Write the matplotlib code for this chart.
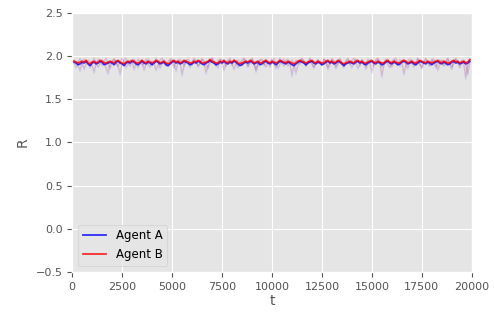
import numpy as np
import matplotlib
matplotlib.use('Agg')
import matplotlib.pyplot as plt

plt.style.use('ggplot')

# time axis, one sample every 100 steps
t = np.arange(0, 20000, 100)

# mean reward per agent
agent_a = [
    1.94, 1.93, 1.92, 1.90, 1.91, 1.93, 1.92, 1.94, 1.91, 1.89, 1.92, 1.93, 1.91, 1.92, 1.94, 1.93, 1.90, 1.91, 1.92, 1.93,
    1.92, 1.90, 1.93, 1.94, 1.92, 1.91, 1.89, 1.92, 1.93, 1.92, 1.94, 1.93, 1.91, 1.90, 1.92, 1.94, 1.92, 1.91, 1.93, 1.92,
    1.90, 1.92, 1.94, 1.93, 1.91, 1.92, 1.93, 1.90, 1.89, 1.91, 1.93, 1.94, 1.92, 1.93, 1.91, 1.92, 1.94, 1.93, 1.92, 1.90,
    1.91, 1.93, 1.92, 1.94, 1.93, 1.91, 1.90, 1.92, 1.93, 1.95, 1.93, 1.92, 1.90, 1.91, 1.93, 1.92, 1.94, 1.92, 1.91, 1.93,
    1.92, 1.94, 1.93, 1.91, 1.89, 1.90, 1.92, 1.93, 1.92, 1.94, 1.93, 1.91, 1.92, 1.93, 1.90, 1.91, 1.93, 1.94, 1.92, 1.91,
    1.93, 1.92, 1.90, 1.92, 1.94, 1.93, 1.92, 1.91, 1.93, 1.92, 1.90, 1.89, 1.91, 1.93, 1.94, 1.93, 1.92, 1.90, 1.92, 1.93,
    1.94, 1.92, 1.91, 1.93, 1.92, 1.90, 1.91, 1.93, 1.94, 1.92, 1.93, 1.91, 1.92, 1.94, 1.93, 1.91, 1.89, 1.91, 1.92, 1.93,
    1.92, 1.91, 1.93, 1.94, 1.92, 1.93, 1.91, 1.90, 1.92, 1.93, 1.94, 1.92, 1.91, 1.93, 1.92, 1.90, 1.91, 1.93, 1.94, 1.92,
    1.91, 1.93, 1.92, 1.90, 1.91, 1.93, 1.94, 1.93, 1.91, 1.92, 1.93, 1.91, 1.90, 1.92, 1.94, 1.93, 1.92, 1.91, 1.93, 1.92,
    1.90, 1.92, 1.93, 1.94, 1.92, 1.91, 1.93, 1.92, 1.90, 1.91, 1.93, 1.94, 1.92, 1.93, 1.91, 1.92, 1.93, 1.91, 1.92, 1.94,
]
agent_b = [
    1.95, 1.94, 1.93, 1.92, 1.93, 1.94, 1.93, 1.95, 1.92, 1.91, 1.93, 1.94, 1.92, 1.93, 1.95, 1.94, 1.92, 1.92, 1.93, 1.94,
    1.93, 1.92, 1.94, 1.95, 1.93, 1.92, 1.91, 1.93, 1.94, 1.93, 1.95, 1.94, 1.92, 1.92, 1.93, 1.95, 1.93, 1.92, 1.94, 1.93,
    1.92, 1.93, 1.95, 1.94, 1.92, 1.93, 1.94, 1.92, 1.91, 1.92, 1.94, 1.95, 1.93, 1.94, 1.92, 1.93, 1.95, 1.94, 1.93, 1.92,
    1.92, 1.94, 1.93, 1.95, 1.94, 1.92, 1.92, 1.93, 1.94, 1.96, 1.94, 1.93, 1.92, 1.92, 1.94, 1.93, 1.95, 1.93, 1.92, 1.94,
    1.93, 1.95, 1.94, 1.92, 1.91, 1.92, 1.93, 1.94, 1.93, 1.95, 1.94, 1.92, 1.93, 1.94, 1.92, 1.92, 1.94, 1.95, 1.93, 1.92,
    1.94, 1.93, 1.92, 1.93, 1.95, 1.94, 1.93, 1.92, 1.94, 1.93, 1.92, 1.91, 1.92, 1.94, 1.95, 1.94, 1.93, 1.92, 1.93, 1.94,
    1.95, 1.93, 1.92, 1.94, 1.93, 1.92, 1.92, 1.94, 1.95, 1.93, 1.94, 1.92, 1.93, 1.95, 1.94, 1.92, 1.91, 1.92, 1.93, 1.94,
    1.93, 1.92, 1.94, 1.95, 1.93, 1.94, 1.92, 1.92, 1.93, 1.94, 1.95, 1.93, 1.92, 1.94, 1.93, 1.92, 1.92, 1.94, 1.95, 1.93,
    1.92, 1.94, 1.93, 1.92, 1.92, 1.94, 1.95, 1.94, 1.92, 1.93, 1.94, 1.92, 1.92, 1.93, 1.95, 1.94, 1.93, 1.92, 1.94, 1.93,
    1.92, 1.93, 1.94, 1.95, 1.93, 1.92, 1.94, 1.93, 1.92, 1.92, 1.94, 1.95, 1.93, 1.94, 1.92, 1.93, 1.94, 1.92, 1.93, 1.96,
]

# individual runs, drawn faintly behind the means
run_a1 = [
    1.95, 1.91, 1.86, 1.93, 1.97, 1.92, 1.84, 1.90, 1.95, 1.93, 1.88, 1.80, 1.91, 1.96, 1.94, 1.89, 1.93, 1.97, 1.90, 1.85,
    1.92, 1.96, 1.93, 1.87, 1.78, 1.90, 1.95, 1.97, 1.92, 1.88, 1.94, 1.96, 1.91, 1.86, 1.93, 1.95, 1.83, 1.90, 1.96, 1.94,
    1.89, 1.92, 1.97, 1.93, 1.85, 1.91, 1.95, 1.92, 1.87, 1.94, 1.97, 1.90, 1.82, 1.92, 1.96, 1.93, 1.88, 1.95, 1.91, 1.86,
    1.93, 1.97, 1.94, 1.89, 1.91, 1.96, 1.92, 1.79, 1.88, 1.95, 1.97, 1.93, 1.90, 1.86, 1.94, 1.96, 1.92, 1.88, 1.93, 1.97,
    1.91, 1.84, 1.90, 1.95, 1.93, 1.89, 1.96, 1.94, 1.87, 1.92, 1.97, 1.93, 1.81, 1.89, 1.95, 1.96, 1.91, 1.87, 1.94, 1.92,
    1.96, 1.90, 1.85, 1.93, 1.97, 1.92, 1.88, 1.94, 1.96, 1.91, 1.76, 1.89, 1.95, 1.93, 1.90, 1.96, 1.94, 1.88, 1.92, 1.97,
    1.93, 1.86, 1.91, 1.95, 1.92, 1.89, 1.96, 1.93, 1.84, 1.90, 1.96, 1.94, 1.88, 1.92, 1.97, 1.91, 1.86, 1.93, 1.95, 1.90,
    1.94, 1.97, 1.92, 1.85, 1.89, 1.95, 1.93, 1.88, 1.96, 1.92, 1.80, 1.91, 1.95, 1.97, 1.93, 1.87, 1.92, 1.96, 1.90, 1.86,
    1.93, 1.96, 1.91, 1.89, 1.95, 1.93, 1.78, 1.88, 1.94, 1.96, 1.92, 1.87, 1.93, 1.97, 1.90, 1.85, 1.92, 1.95, 1.93, 1.89,
    1.96, 1.92, 1.86, 1.91, 1.95, 1.93, 1.88, 1.94, 1.97, 1.90, 1.84, 1.92, 1.96, 1.93, 1.89, 1.95, 1.91, 1.73, 1.90, 1.94,
]
run_a2 = [
    1.90, 1.95, 1.93, 1.88, 1.82, 1.92, 1.96, 1.94, 1.90, 1.86, 1.93, 1.97, 1.92, 1.87, 1.91, 1.95, 1.93, 1.85, 1.79, 1.90,
    1.94, 1.96, 1.91, 1.88, 1.93, 1.97, 1.92, 1.86, 1.90, 1.95, 1.93, 1.84, 1.91, 1.96, 1.94, 1.89, 1.92, 1.96, 1.90, 1.87,
    1.94, 1.91, 1.83, 1.89, 1.95, 1.97, 1.92, 1.88, 1.93, 1.96, 1.91, 1.86, 1.92, 1.95, 1.93, 1.77, 1.88, 1.94, 1.96, 1.92,
    1.89, 1.95, 1.93, 1.87, 1.91, 1.96, 1.94, 1.90, 1.85, 1.92, 1.97, 1.93, 1.88, 1.94, 1.96, 1.91, 1.83, 1.90, 1.95, 1.93,
    1.89, 1.96, 1.92, 1.86, 1.91, 1.95, 1.97, 1.93, 1.88, 1.92, 1.96, 1.90, 1.84, 1.91, 1.95, 1.93, 1.89, 1.96, 1.92, 1.87,
    1.93, 1.97, 1.91, 1.85, 1.90, 1.94, 1.96, 1.92, 1.88, 1.93, 1.95, 1.91, 1.79, 1.89, 1.95, 1.97, 1.93, 1.88, 1.92, 1.96,
    1.90, 1.86, 1.93, 1.95, 1.92, 1.89, 1.96, 1.94, 1.87, 1.91, 1.96, 1.93, 1.85, 1.90, 1.95, 1.92, 1.88, 1.94, 1.97, 1.91,
    1.86, 1.92, 1.96, 1.93, 1.89, 1.95, 1.91, 1.84, 1.90, 1.95, 1.93, 1.88, 1.94, 1.96, 1.92, 1.75, 1.89, 1.94, 1.96, 1.91,
    1.87, 1.93, 1.97, 1.92, 1.88, 1.94, 1.96, 1.90, 1.85, 1.92, 1.95, 1.93, 1.89, 1.96, 1.91, 1.86, 1.93, 1.97, 1.92, 1.88,
    1.94, 1.96, 1.91, 1.83, 1.90, 1.95, 1.93, 1.89, 1.96, 1.92, 1.87, 1.93, 1.97, 1.91, 1.86, 1.92, 1.95, 1.90, 1.78, 1.93,
]
run_b1 = [
    1.96, 1.93, 1.88, 1.94, 1.97, 1.92, 1.86, 1.91, 1.96, 1.94, 1.90, 1.83, 1.92, 1.97, 1.95, 1.90, 1.94, 1.98, 1.91, 1.87,
    1.93, 1.97, 1.94, 1.89, 1.81, 1.91, 1.96, 1.98, 1.93, 1.89, 1.95, 1.97, 1.92, 1.88, 1.94, 1.96, 1.85, 1.91, 1.97, 1.95,
    1.90, 1.93, 1.98, 1.94, 1.87, 1.92, 1.96, 1.93, 1.89, 1.95, 1.98, 1.91, 1.84, 1.93, 1.97, 1.94, 1.90, 1.96, 1.92, 1.88,
    1.94, 1.98, 1.95, 1.90, 1.92, 1.97, 1.93, 1.82, 1.90, 1.96, 1.98, 1.94, 1.91, 1.88, 1.95, 1.97, 1.93, 1.89, 1.94, 1.98,
    1.92, 1.86, 1.91, 1.96, 1.94, 1.90, 1.97, 1.95, 1.89, 1.93, 1.98, 1.94, 1.83, 1.90, 1.96, 1.97, 1.92, 1.88, 1.95, 1.93,
    1.97, 1.91, 1.87, 1.94, 1.98, 1.93, 1.89, 1.95, 1.97, 1.92, 1.79, 1.90, 1.96, 1.94, 1.91, 1.97, 1.95, 1.89, 1.93, 1.98,
    1.94, 1.88, 1.92, 1.96, 1.93, 1.90, 1.97, 1.94, 1.86, 1.91, 1.97, 1.95, 1.89, 1.93, 1.98, 1.92, 1.88, 1.94, 1.96, 1.91,
    1.95, 1.98, 1.93, 1.87, 1.90, 1.96, 1.94, 1.89, 1.97, 1.93, 1.83, 1.92, 1.96, 1.98, 1.94, 1.88, 1.93, 1.97, 1.91, 1.87,
    1.94, 1.97, 1.92, 1.90, 1.96, 1.94, 1.81, 1.89, 1.95, 1.97, 1.93, 1.88, 1.94, 1.98, 1.91, 1.87, 1.93, 1.96, 1.94, 1.90,
    1.97, 1.93, 1.88, 1.92, 1.96, 1.94, 1.89, 1.95, 1.98, 1.91, 1.86, 1.93, 1.97, 1.94, 1.90, 1.96, 1.92, 1.76, 1.91, 1.95,
]
run_b2 = [
    1.91, 1.96, 1.94, 1.89, 1.85, 1.93, 1.97, 1.95, 1.91, 1.88, 1.94, 1.98, 1.93, 1.88, 1.92, 1.96, 1.94, 1.87, 1.82, 1.91,
    1.95, 1.97, 1.92, 1.89, 1.94, 1.98, 1.93, 1.88, 1.91, 1.96, 1.94, 1.86, 1.92, 1.97, 1.95, 1.90, 1.93, 1.97, 1.91, 1.88,
    1.95, 1.92, 1.85, 1.90, 1.96, 1.98, 1.93, 1.89, 1.94, 1.97, 1.92, 1.88, 1.93, 1.96, 1.94, 1.80, 1.89, 1.95, 1.97, 1.93,
    1.90, 1.96, 1.94, 1.88, 1.92, 1.97, 1.95, 1.91, 1.87, 1.93, 1.98, 1.94, 1.89, 1.95, 1.97, 1.92, 1.85, 1.91, 1.96, 1.94,
    1.90, 1.97, 1.93, 1.88, 1.92, 1.96, 1.98, 1.94, 1.89, 1.93, 1.97, 1.91, 1.86, 1.92, 1.96, 1.94, 1.90, 1.97, 1.93, 1.88,
    1.94, 1.98, 1.92, 1.87, 1.91, 1.95, 1.97, 1.93, 1.89, 1.94, 1.96, 1.92, 1.82, 1.90, 1.96, 1.98, 1.94, 1.89, 1.93, 1.97,
    1.91, 1.88, 1.94, 1.96, 1.93, 1.90, 1.97, 1.95, 1.88, 1.92, 1.97, 1.94, 1.87, 1.91, 1.96, 1.93, 1.89, 1.95, 1.98, 1.92,
    1.88, 1.93, 1.97, 1.94, 1.90, 1.96, 1.92, 1.86, 1.91, 1.96, 1.94, 1.89, 1.95, 1.97, 1.93, 1.78, 1.90, 1.95, 1.97, 1.92,
    1.88, 1.94, 1.98, 1.93, 1.89, 1.95, 1.97, 1.91, 1.87, 1.93, 1.96, 1.94, 1.90, 1.97, 1.92, 1.88, 1.94, 1.98, 1.93, 1.89,
    1.95, 1.97, 1.92, 1.85, 1.91, 1.96, 1.94, 1.90, 1.97, 1.93, 1.88, 1.94, 1.98, 1.92, 1.87, 1.93, 1.96, 1.91, 1.80, 1.94,
]

fig = plt.figure(figsize=(4.94, 3.15), dpi=100)
ax = fig.add_axes([0.146, 0.137, 0.809, 0.822])

for r in [run_a1, run_a2]:
    ax.plot(t, r, color='blue', alpha=0.1, lw=1)
for r in [run_b1, run_b2]:
    ax.plot(t, r, color='red', alpha=0.1, lw=1)

ax.plot(t, agent_a, color='blue', lw=1.3, alpha=0.8, label='Agent A')
ax.plot(t, agent_b, color='red', lw=1.3, alpha=0.8, label='Agent B')

ax.set_xlim(0, 20000)
ax.set_ylim(-0.5, 2.5)
ax.set_xlabel('t', fontsize=10, labelpad=2)
ax.set_ylabel('R', fontsize=10)
ax.tick_params(labelsize=8)
ax.legend(loc='lower left', fontsize=8.5)

fig.savefig('out.png', dpi=100)
